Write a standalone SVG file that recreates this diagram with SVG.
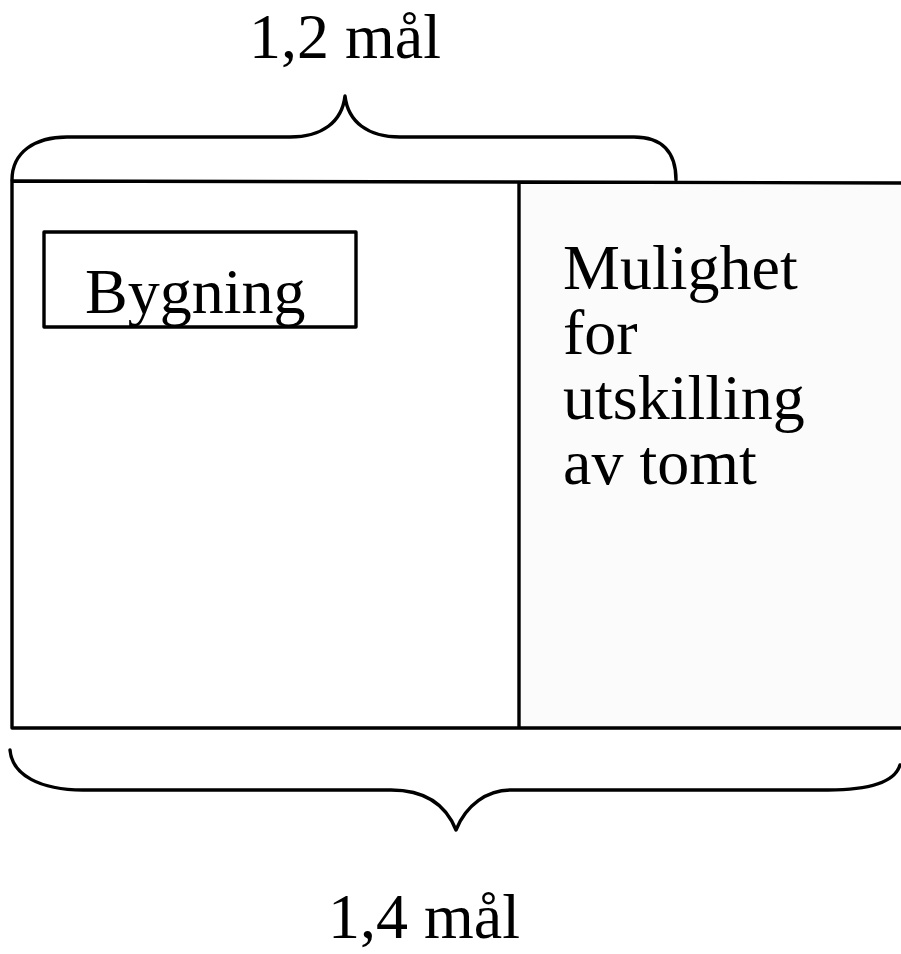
<svg xmlns="http://www.w3.org/2000/svg" width="901" height="954" viewBox="0 0 901 954">
<style>
.ln{fill:none;stroke:#000;stroke-width:3.4;stroke-linejoin:round;stroke-linecap:round}
.t{font-family:"Liberation Serif","Times New Roman",serif;font-size:64px;fill:#000}
</style>
<rect width="901" height="954" fill="#fff"/>
<g id="plot">
<rect x="519" y="183" width="382" height="545" fill="#fbfbfb"/>
<path class="ln" d="M12,728 L12,181 L519,182 L901,183 M12,728 L901,728 M519,183 L519,728"/>
</g>
<g id="bygning">
<rect class="ln" x="44" y="232" width="312" height="95"/>
<text class="t" x="85" y="313">Bygning</text>
</g>
<g id="tomt">
<text class="t" x="563" y="289">Mulighet</text>
<text class="t" x="563" y="354">for</text>
<text class="t" x="563" y="419">utskilling</text>
<text class="t" x="563" y="484">av tomt</text>
</g>
<g id="braces">
<path class="ln" d="M12,180 C12,152 35,137 67,137 L290,137 C322,137 342,122 345,96 C348,122 368,137 400,137 L634,137 C662,137 676,152 676,180"/>
<path class="ln" d="M10,750 C12,775 40,790 83,790 L391,790 C425,790 446,805 456,830 C466,805 487,790 511,790 L828,790 C870,790 895,782 900,765"/>
</g>
<g id="labels">
<text class="t" x="345" y="58" text-anchor="middle">1,2 mål</text>
<text class="t" x="424" y="938" text-anchor="middle">1,4 mål</text>
</g>
</svg>
